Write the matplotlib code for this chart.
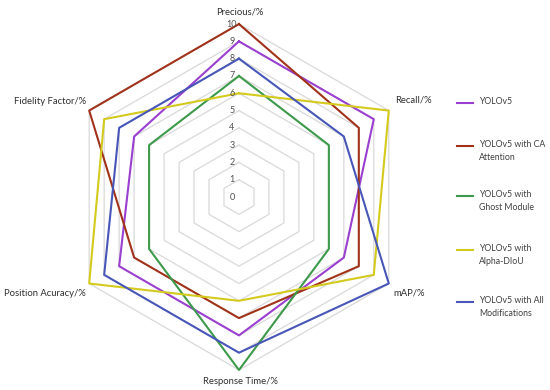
import numpy as np
import matplotlib
matplotlib.use("Agg")
import matplotlib.pyplot as plt
from matplotlib.lines import Line2D
from matplotlib.transforms import offset_copy

categories = ["Precious/%", "Recall/%", "mAP/%", "Response Time/%",
              "Position Acuracy/%", "Fidelity Factor/%"]
series_names = ["YOLOv5", "YOLOv5 with CA\nAttention", "YOLOv5 with\nGhost Module",
                "YOLOv5 with\nAlpha-DIoU", "YOLOv5 with All\nModifications"]
yolov5 = [9, 9, 7, 8, 8, 7]
ca_attention = [10, 8, 8, 7, 7, 10]
ghost_module = [7, 6, 6, 10, 6, 6]
alpha_diou = [6, 10, 9, 6, 10, 9]
all_mods = [8, 7, 10, 9, 9, 8]
series = [yolov5, ca_attention, ghost_module, alpha_diou, all_mods]
colors = ["#9a3fd0", "#a0321a", "#3c9a4a", "#d4ca1e", "#4756b8"]
rticks = list(range(0, 11))

plt.rcParams['font.family'] = ['Lato', 'DejaVu Sans']

fig = plt.figure(figsize=(5.5, 3.9), dpi=100)
ax = fig.add_axes([0.120, 0.0513, 0.629, 0.887], projection='polar')
ax.set_theta_zero_location('N')
ax.set_theta_direction(-1)
ax.set_ylim(0, 10)

n = len(categories)
angles = np.linspace(0, 2 * np.pi, n, endpoint=False)
closed = np.concatenate([angles, angles[:1]])

# hexagonal grid
for r in rticks[1:]:
    ax.plot(closed, [r] * (n + 1), color="#d9d9d9", lw=0.9, zorder=1)

ax.grid(False)
ax.spines['polar'].set_visible(False)
ax.set_xticks([])
ax.set_yticks([])

for vals, c in zip(series, colors):
    v = list(vals) + [vals[0]]
    ax.plot(closed, v, color=c, lw=1.5, zorder=3, clip_on=False)

# radial tick labels along top axis
tr = offset_copy(ax.transData, fig=fig, x=-7, y=0, units='dots')
for r in rticks:
    ax.text(0, r, str(r), ha='center', va='center', fontsize=6.5, color="#505050",
            transform=tr, zorder=4)

# category labels (figure pixel positions)
W, H = 550, 390
lab_pos = [(240, 12, 'center'), (395, 100, 'left'), (393, 293, 'left'),
           (240, 381, 'center'), (86, 293, 'right'), (86, 102, 'right')]
for (x, y, ha), lab in zip(lab_pos, categories):
    fig.text(x / W, 1 - y / H, lab, ha=ha, va='center', fontsize=6.8, color="#303030")

# legend
leg_y = [103, 146, 196, 250, 302]
for y, name, c in zip(leg_y, series_names, colors):
    fig.add_artist(Line2D([457 / W, 473 / W], [1 - y / H, 1 - y / H], color=c, lw=1.5))
    fig.text(479 / W, 1 - (y - 6) / H, name, ha='left', va='top', fontsize=6.3,
             color="#404040", linespacing=1.55)

fig.savefig("out.png", dpi=100)
